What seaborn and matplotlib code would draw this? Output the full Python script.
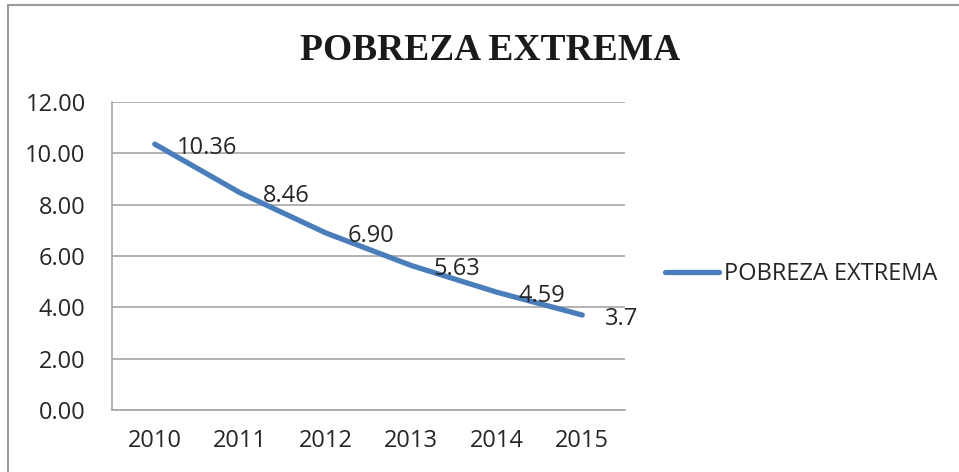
import matplotlib
matplotlib.use("Agg")
import matplotlib.pyplot as plt
from matplotlib.lines import Line2D
import pandas as pd
import seaborn as sns

# data
years = ["2010", "2011", "2012", "2013", "2014", "2015"]
pobreza = [10.36, 8.46, 6.90, 5.63, 4.59, 3.7]
labels = ["10.36", "8.46", "6.90", "5.63", "4.59", "3.7"]
y_ticks = [0, 2, 4, 6, 8, 10, 12]
series_name = "POBREZA EXTREMA"

df = pd.DataFrame({"year": years, "value": pobreza})

sns.set_theme(style="white")
plt.rcParams['font.family'] = ['Open Sans', 'DejaVu Sans']

line_color = '#4A7EBB'
text_color = '#262626'
grid_color = '#A6A6A6'
fs = 17

fig = plt.figure(figsize=(9.59, 4.72), dpi=100)
ax = fig.add_axes([112 / 959, 1 - 410 / 472, (625 - 112) / 959, (410 - 102) / 472])

sns.lineplot(data=df, x="year", y="value", ax=ax, color=line_color,
             linewidth=3.8, label=series_name, sort=False)
for ln in ax.get_lines():
    ln.set_solid_capstyle('round')
    ln.set_solid_joinstyle('round')

# data labels
for i, (v, lab) in enumerate(zip(pobreza, labels)):
    ax.annotate(lab, (i, v), xytext=(16, -2.5), textcoords='offset points',
                ha='left', va='center', fontsize=fs, color=text_color)

ax.set_xlim(-0.5, len(years) - 0.5)
ax.set_ylim(0, 12)
ax.set_yticks(y_ticks)
ax.set_yticklabels([f"{t:.2f}" for t in y_ticks])
ax.set_xlabel("")
ax.set_ylabel("")
ax.tick_params(axis='both', length=0, labelsize=fs, labelcolor=text_color)
ax.tick_params(axis='y', pad=19)
ax.tick_params(axis='x', pad=14)

ax.yaxis.grid(True, color=grid_color, linewidth=1.2)
ax.set_axisbelow(True)
for side in ['top', 'right']:
    ax.spines[side].set_visible(False)
for side in ['left', 'bottom']:
    ax.spines[side].set_color(grid_color)
    ax.spines[side].set_linewidth(1.2)

# legend at the right, outside the plot area
ax.get_legend().remove()
fig.legend(handles=[Line2D([0], [0], color=line_color, linewidth=3.8,
                           solid_capstyle='round')],
           labels=[series_name], loc='center left',
           bbox_to_anchor=(665 / 959, 1 - 274 / 472), frameon=False,
           borderpad=0, borderaxespad=0, handlelength=2.3, handletextpad=0.2,
           prop={'family': 'Open Sans', 'size': fs}, labelcolor=text_color)

# title
fig.text(490 / 959, 1 - 60 / 472, "POBREZA EXTREMA", ha='center', va='baseline',
         fontsize=27, fontweight='bold', family='Liberation Serif', color='#1a1a1a')

# chart border (top and left edges visible in the reference)
fig.add_artist(Line2D([8 / 959, 1], [1 - 5 / 472, 1 - 5 / 472],
                      transform=fig.transFigure, color='#9a9a9a', linewidth=1.5))
fig.add_artist(Line2D([8 / 959, 8 / 959], [0, 1 - 5 / 472],
                      transform=fig.transFigure, color='#9a9a9a', linewidth=1.5))

fig.savefig("out.png", dpi=100)
